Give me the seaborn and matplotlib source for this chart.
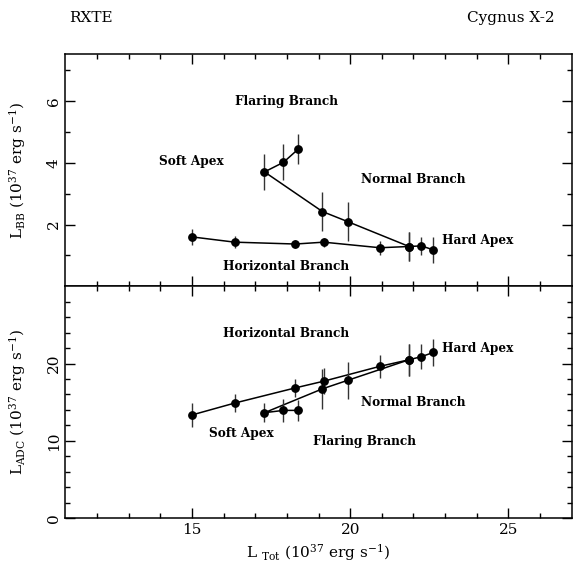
import numpy as np
import pandas as pd
import matplotlib
matplotlib.use("Agg")
import matplotlib.pyplot as plt
import seaborn as sns

# horizontal branch (soft to hard apex)
hb_ltot = [15.0, 16.35, 18.27, 19.16, 20.94, 21.86, 22.25, 22.63]
hb_lbb = [1.60, 1.43, 1.37, 1.43, 1.25, 1.29, 1.31, 1.18]
hb_lbb_err = [0.27, 0.19, 0.13, 0.15, 0.23, 0.47, 0.30, 0.41]
hb_ladc = [13.35, 14.89, 16.86, 17.72, 19.65, 20.5, 20.9, 21.45]
hb_ladc_err = [1.6, 1.2, 1.2, 1.7, 1.5, 2.1, 1.6, 1.8]

# normal + flaring branch
nb_ltot = [21.86, 19.93, 19.12, 17.29, 17.89, 18.36]
nb_lbb = [1.29, 2.09, 2.42, 3.70, 4.01, 4.44]
nb_lbb_err = [0.47, 0.63, 0.63, 0.59, 0.58, 0.50]
nb_ladc = [20.5, 17.85, 16.73, 13.64, 13.94, 13.94]
nb_ladc_err = [2.1, 2.4, 2.6, 1.2, 1.5, 1.4]

hb = pd.DataFrame({"ltot": hb_ltot, "lbb": hb_lbb, "lbb_err": hb_lbb_err,
                   "ladc": hb_ladc, "ladc_err": hb_ladc_err})
nb = pd.DataFrame({"ltot": nb_ltot, "lbb": nb_lbb, "lbb_err": nb_lbb_err,
                   "ladc": nb_ladc, "ladc_err": nb_ladc_err})

sns.set_style("ticks")
plt.rcParams["font.family"] = ["DejaVu Serif"]
plt.rcParams["mathtext.fontset"] = "dejavuserif"
plt.rcParams["axes.linewidth"] = 1.1
plt.rcParams["axes.edgecolor"] = "black"
plt.rcParams["text.color"] = "black"
plt.rcParams["axes.labelcolor"] = "black"
plt.rcParams["xtick.color"] = "black"
plt.rcParams["ytick.color"] = "black"
plt.rcParams["xtick.direction"] = "in"
plt.rcParams["ytick.direction"] = "in"

fig = plt.figure(figsize=(5.73, 5.74), dpi=100)
ax1 = fig.add_axes([0.1143, 0.501, 0.8834, 0.4044])
ax2 = fig.add_axes([0.1143, 0.0976, 0.8834, 0.4034], sharex=ax1)


def draw(ax, col):
    for d in (hb, nb):
        sns.lineplot(data=d, x="ltot", y=col, sort=False, ax=ax,
                     color="black", lw=1.1, estimator=None)
        ax.errorbar(d["ltot"], d[col], yerr=d[col + "_err"], fmt="o",
                    color="black", ecolor="#333333", ms=5.3,
                    elinewidth=1.0, capsize=0)


draw(ax1, "lbb")
draw(ax2, "ladc")

fs = 8.7
lab_kw = dict(ha="center", va="center", fontsize=fs, fontweight="bold")
ax1.text(17.98, 5.97, "Flaring Branch", **lab_kw)
ax1.text(14.99, 4.03, "Soft Apex", **lab_kw)
ax1.text(21.98, 3.45, "Normal Branch", **lab_kw)
ax1.text(24.03, 1.48, "Hard Apex", **lab_kw)
ax1.text(17.98, 0.65, "Horizontal Branch", **lab_kw)

ax2.text(17.98, 23.9, "Horizontal Branch", **lab_kw)
ax2.text(24.03, 21.9, "Hard Apex", **lab_kw)
ax2.text(21.98, 14.9, "Normal Branch", **lab_kw)
ax2.text(16.57, 10.9, "Soft Apex", **lab_kw)
ax2.text(20.44, 9.9, "Flaring Branch", **lab_kw)

ax1.set_xlim(11, 27)
ax1.set_ylim(0, 7.5)
ax2.set_ylim(0, 30)
ax1.set_yticks([2, 4, 6])
ax1.set_yticks([1, 3, 5, 7], minor=True)
ax2.set_yticks([0, 10, 20])
ax2.set_yticks(np.arange(2, 30, 2), minor=True)
ax2.set_xticks([15, 20, 25])
ax2.set_xticks(np.arange(12, 27, 1), minor=True)

for ax in (ax1, ax2):
    ax.tick_params(which="both", top=True, right=True, width=1.0,
                   labelsize=11, color="black")
    ax.tick_params(which="major", length=7)
    ax.tick_params(which="minor", length=3.5)
    ax.set_xlabel("")
    for t in ax.get_yticklabels():
        t.set_rotation(90)
        t.set_va("center")
ax1.tick_params(labelbottom=False)

ax1.set_ylabel(r"L$_{\rm BB}$ (10$^{37}$ erg s$^{-1}$)", fontsize=11, labelpad=6)
ax2.set_ylabel(r"L$_{\rm ADC}$ (10$^{37}$ erg s$^{-1}$)", fontsize=11, labelpad=6)
ax2.set_xlabel(r"L $_{\rm Tot}$ (10$^{37}$ erg s$^{-1}$)", fontsize=11, labelpad=4)
ax1.yaxis.set_label_coords(-0.075, 0.5)
ax2.yaxis.set_label_coords(-0.075, 0.5)

fig.text(0.158, 0.969, "RXTE", ha="center", va="center", fontsize=11)
fig.text(0.892, 0.969, "Cygnus X-2", ha="center", va="center", fontsize=11)

fig.savefig("out.png", dpi=100)
